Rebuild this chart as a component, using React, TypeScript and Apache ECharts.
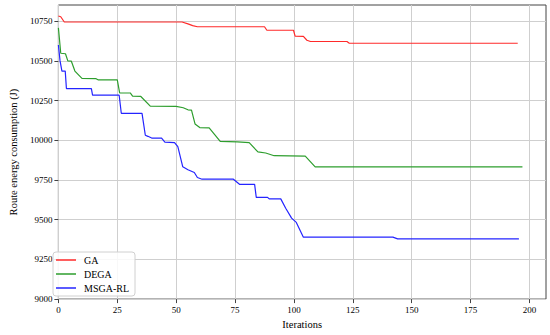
import React, { useEffect, useRef } from "react";
import * as echarts from "echarts";

const seriesNames = ["GA", "DEGA", "MSGA-RL"];

const gaPoints: [number, number][] = [
  [0, 10783], [1, 10778], [2.5, 10745], [52.5, 10745], [55, 10733], [57, 10722], [59, 10715],
  [87.5, 10715], [88.5, 10693], [99.8, 10693], [100.5, 10656], [104, 10655], [105.5, 10630],
  [107, 10622], [122.5, 10622], [123.5, 10611], [195, 10611],
];

const degaPoints: [number, number][] = [
  [0, 10708], [1, 10548], [3, 10545], [4, 10500], [5.5, 10498], [7, 10436], [10, 10390],
  [16, 10388], [17, 10380], [25, 10380], [26, 10298], [30.5, 10298], [31.5, 10278], [35, 10276],
  [39, 10215], [50, 10214], [53, 10205], [55, 10192], [56.5, 10190], [58, 10103], [60, 10080],
  [64, 10078], [68.7, 9993], [76, 9990], [81, 9985], [84.7, 9927], [88, 9920], [91.6, 9903],
  [104.8, 9900], [109, 9833], [197, 9833],
];

const msgaPoints: [number, number][] = [
  [0, 10600], [0.7, 10500], [1.5, 10436], [2.9, 10436], [3.4, 10326], [14, 10325], [14.5, 10284],
  [25.8, 10284], [26.7, 10170], [35.5, 10170], [36.9, 10032], [38, 10025], [39.6, 10014],
  [43.8, 10014], [45.2, 9989], [49.3, 9985], [50.7, 9960], [52.8, 9833], [55, 9815], [57.7, 9797],
  [59, 9766], [61, 9755], [74.3, 9755], [77, 9722], [83.3, 9722], [84, 9641], [88.8, 9641],
  [89.5, 9631], [94.4, 9631], [96.5, 9572], [99, 9510], [101, 9483], [104, 9390], [142, 9390],
  [144, 9379], [195.5, 9379],
];

const xTicks = [0, 25, 50, 75, 100, 125, 150, 175, 200];
const yTicks = [9000, 9250, 9500, 9750, 10000, 10250, 10500, 10750];

const colors = ["#ff2a2a", "#2e9e2e", "#2424ff"];
const FONT = "'Liberation Serif', 'DejaVu Serif', serif";

export default function App() {
  const ref = useRef<HTMLDivElement>(null);
  useEffect(() => {
    if (!ref.current) return;
    const chart = echarts.init(ref.current, undefined, { renderer: "svg" });
    const dataSets = [gaPoints, degaPoints, msgaPoints];
    chart.setOption({
      animation: false,
      backgroundColor: "#ffffff",
      textStyle: { fontFamily: FONT },
      grid: {
        left: 48,
        right: 4,
        top: 5,
        bottom: 33,
        show: true,
        borderColor: "#444",
        borderWidth: 1,
        backgroundColor: "transparent",
      },
      legend: {
        left: 53,
        top: 252,
        orient: "vertical",
        data: seriesNames,
        icon: "rect",
        itemWidth: 20,
        itemHeight: 1.5,
        itemGap: 2,
        padding: [2, 6, 2, 3],
        borderColor: "#d0d0d0",
        borderWidth: 1,
        borderRadius: 3,
        backgroundColor: "rgba(255,255,255,0.85)",
        textStyle: {
          fontFamily: FONT,
          fontSize: 10,
          color: "#000",
          lineHeight: 12,
          padding: [0, 0, 0, 3],
        },
      },
      xAxis: {
        type: "value",
        min: 0,
        max: 207,
        interval: 25,
        name: "Iterations",
        nameLocation: "middle",
        nameGap: 16,
        nameTextStyle: { fontFamily: FONT, fontSize: 10.5, color: "#000" },
        axisLine: { show: false },
        axisTick: {
          show: true,
          length: 4,
          customValues: xTicks,
          lineStyle: { color: "#444" },
        },
        axisLabel: {
          customValues: xTicks,
          margin: 6,
          fontFamily: FONT,
          fontSize: 9,
          color: "#000",
          formatter: (v: number) => String(v),
        },
        splitLine: { show: true, lineStyle: { color: "#cfcfcf", width: 1 } },
      },
      yAxis: {
        type: "value",
        min: 9000,
        max: 10852,
        interval: 250,
        name: "Route energy consumption (J)",
        nameLocation: "middle",
        nameGap: 35,
        nameTextStyle: { fontFamily: FONT, fontSize: 10.5, color: "#000" },
        axisLine: { show: false },
        axisTick: {
          show: true,
          length: 4,
          customValues: yTicks,
          lineStyle: { color: "#444" },
        },
        axisLabel: {
          customValues: yTicks,
          margin: 6,
          fontFamily: FONT,
          fontSize: 9,
          color: "#000",
          formatter: (v: number) => String(v),
        },
        splitLine: { show: true, lineStyle: { color: "#cfcfcf", width: 1 } },
      },
      series: seriesNames.map((name, i) => ({
        name,
        type: "line",
        data: dataSets[i],
        symbol: "none",
        showSymbol: false,
        color: colors[i],
        lineStyle: { color: colors[i], width: 1.2 },
        z: 3 + i,
      })),
    });
    return () => chart.dispose();
  }, []);
  return (
    <div
      ref={ref}
      style={{ position: "fixed", left: 0, top: 0, width: 550, height: 335 }}
    />
  );
}
